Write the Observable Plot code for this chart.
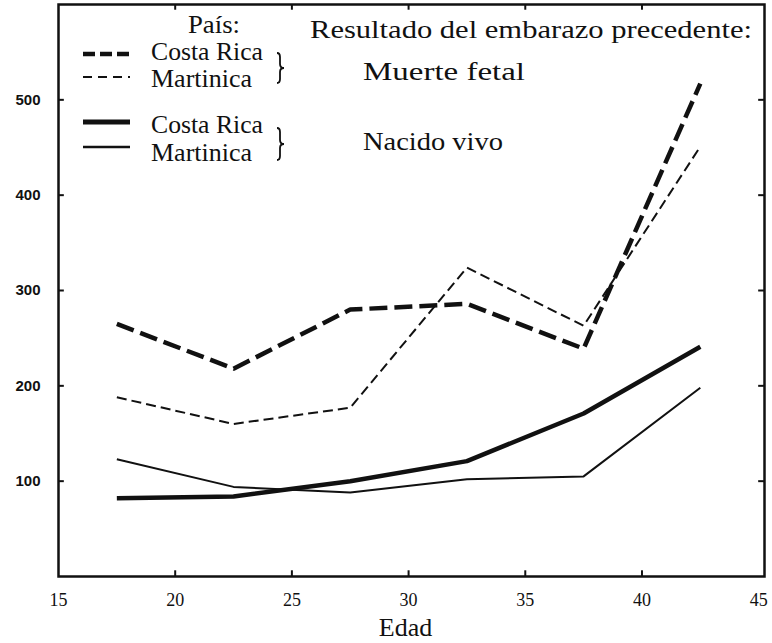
<!DOCTYPE html>
<html>
<head>
<meta charset="utf-8">
<script src="https://cdn.jsdelivr.net/npm/d3@7"></script>
<script src="https://cdn.jsdelivr.net/npm/@observablehq/plot@0.6"></script>
<style>
  html, body { margin: 0; padding: 0; background: #fff; }
  #chart svg { display: block; }
</style>
</head>
<body>
<div id="chart"></div>
<script>
// ---- data ----
const ages = [17.5, 22.5, 27.5, 32.5, 37.5, 42.5];
const costaRicaFetal = [265, 218, 280, 286, 239, 517];
const martinicaFetal = [188, 160, 177, 324, 263, 451];
const costaRicaLive = [82, 84, 100, 121, 171, 241];
const martinicaLive = [123, 94, 88, 102, 105, 198];
const xTicks = [15, 20, 25, 30, 35, 40, 45];
const xInnerTicks = [20, 25, 30, 35, 40];
const yTicks = [100, 200, 300, 400, 500];
const legendTitle = "País:";
const outcomeTitle = "Resultado del embarazo precedente:";
const countries = ["Costa Rica", "Martinica"];
const outcomes = ["Muerte fetal", "Nacido vivo"];
const xLabel = "Edad";

const ink = "#111";
const serif = "'Liberation Serif', 'Times New Roman', serif";

const styles = {
  crFetal: {strokeWidth: 4.5, dash: "18,7"},
  mtFetal: {strokeWidth: 2, dash: "10,5"},
  crLive: {strokeWidth: 4.5, dash: null},
  mtLive: {strokeWidth: 2, dash: null}
};
const rows = (vals) => ages.map((a, i) => ({age: a, value: vals[i]}));

const lineMark = (vals, st) => Plot.line(rows(vals), {
  x: "age", y: "value", stroke: ink, strokeWidth: st.strokeWidth,
  strokeDasharray: st.dash, strokeLinejoin: "miter", strokeLinecap: "butt"
});

// legend drawn inside the frame (layout only)
function legend(index, scales, values, dimensions) {
  const g = d3.create("svg:g").attr("text-anchor", "start");
  const {marginLeft: L, marginTop: T} = dimensions;
  const sw = [
    [styles.crFetal, 50, "12,5"], [styles.mtFetal, 73, "9,6"],
    [styles.crLive, 118, null], [styles.mtLive, 143, null]
  ];
  sw.forEach(([st, y, dash]) => {
    g.append("line").attr("x1", L + 25).attr("x2", L + 72)
      .attr("y1", T + y).attr("y2", T + y)
      .attr("stroke", ink).attr("stroke-width", st.strokeWidth + (dash ? 0 : 0.5))
      .attr("stroke-dasharray", dash);
  });
  const txt = (t, x, y, len, anchor = "start") => {
    g.append("text").attr("x", x).attr("y", y)
      .attr("text-anchor", anchor)
      .attr("font-family", serif).attr("font-size", 25).attr("fill", ink)
      .attr("textLength", len).attr("lengthAdjust", "spacingAndGlyphs")
      .text(t);
  };
  txt(countries[0], L + 93, T + 56, 112);
  txt(countries[1], L + 93, T + 83, 101);
  txt(countries[0], L + 93, T + 129, 112);
  txt(countries[1], L + 93, T + 157, 101);
  txt(legendTitle, L + 130, T + 29, 52);
  txt(outcomeTitle, L + 252, T + 34, 442);
  txt(outcomes[0], L + 305, T + 76, 162);
  txt(outcomes[1], L + 305, T + 146, 140);
  // braces
  const brace = (x, y0, y1) => {
    const m = (y0 + y1) / 2;
    return `M${x - 3},${y0} Q${x},${y0} ${x},${y0 + 4} L${x},${m - 4} Q${x},${m} ${x + 4},${m} Q${x},${m} ${x},${m + 4} L${x},${y1 - 4} Q${x},${y1} ${x - 3},${y1}`;
  };
  [[49, 79], [124, 156]].forEach(([a, b]) => {
    g.append("path").attr("d", brace(L + 222, T + a, T + b))
      .attr("fill", "none").attr("stroke", ink).attr("stroke-width", 1.8);
  });
  return g.node();
}

const chart = Plot.plot({
  width: 772,
  height: 643,
  marginLeft: 58,
  marginRight: 8,
  marginTop: 4,
  marginBottom: 67,
  x: {domain: [15, 45.25]},
  y: {domain: [0, 600]},
  style: {background: "#fff", color: ink},
  marks: [
    Plot.frame({stroke: ink, strokeWidth: 2.5}),
    // inward ticks on all four sides
    Plot.ruleX(xInnerTicks, {x: d => d, y1: 0, y2: 6, stroke: ink, strokeWidth: 2}),
    Plot.ruleX(xInnerTicks, {x: d => d, y1: 600, y2: 594, stroke: ink, strokeWidth: 2}),
    Plot.ruleY(yTicks, {y: d => d, x1: 15, x2: 15.25, stroke: ink, strokeWidth: 2}),
    Plot.ruleY(yTicks, {y: d => d, x1: 45.25, x2: 45.0, stroke: ink, strokeWidth: 2}),
    Plot.axisX({ticks: xTicks, tickSize: 0, tickPadding: 17, fontSize: 18,
      fontFamily: serif, label: null, tickFormat: d => String(d)}),
    Plot.axisY({ticks: yTicks, tickSize: 0, tickPadding: 18, fontSize: 15,
      fontFamily: "'Liberation Sans', Arial, sans-serif", fontWeight: "bold", label: null}),
    Plot.text([xLabel], {frameAnchor: "bottom", dy: 59, dx: -6, text: d => d,
      fontSize: 26, fontFamily: serif, fill: ink}),
    lineMark(costaRicaFetal, styles.crFetal),
    lineMark(martinicaFetal, styles.mtFetal),
    lineMark(costaRicaLive, styles.crLive),
    lineMark(martinicaLive, styles.mtLive),
    legend
  ]
});
document.getElementById("chart").append(chart);
</script>
</body>
</html>
